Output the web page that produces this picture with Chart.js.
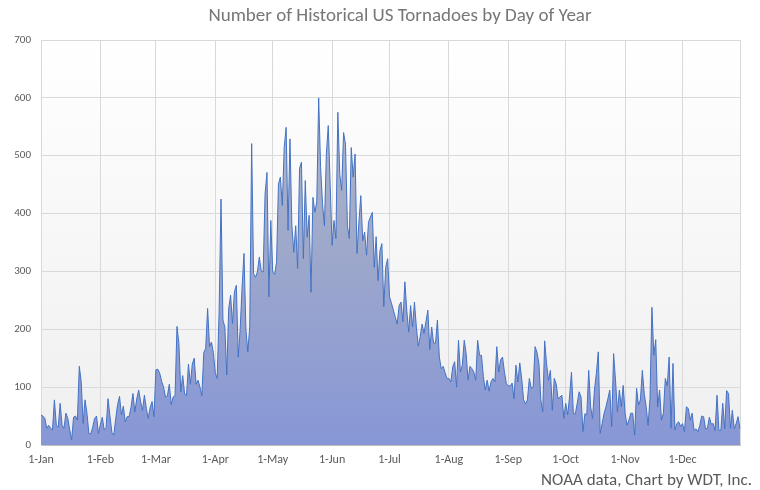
<!DOCTYPE html>
<html>
<head>
<meta charset="utf-8">
<script src="https://cdn.jsdelivr.net/npm/chart.js@4"></script>
<style>
  body { margin: 0; background: #fff; }
</style>
</head>
<body>
<canvas id="chart" width="760" height="490"></canvas>
<script>
// daily tornado counts, one array per month (leap year, 366 days)
const jan = [52, 50, 46, 29, 34, 29, 26, 78, 34, 31, 72, 34, 29, 55, 46, 26, 9, 48, 50, 43, 136, 109, 37, 78, 55, 20, 19, 31, 46, 50, 20];
const feb = [35, 48, 26, 30, 80, 50, 22, 17, 45, 70, 84, 52, 67, 40, 49, 49, 65, 89, 57, 80, 95, 75, 60, 86, 63, 46, 65, 75, 49];
const mar = [130, 131, 124, 110, 100, 83, 85, 105, 70, 83, 85, 205, 176, 92, 120, 88, 86, 140, 105, 140, 150, 105, 112, 100, 85, 160, 167, 236, 170, 178, 160];
const apr = [125, 115, 230, 425, 216, 204, 121, 235, 259, 210, 265, 276, 152, 200, 273, 331, 200, 161, 204, 521, 296, 290, 299, 325, 301, 299, 434, 471, 256, 388];
const may = [299, 295, 316, 451, 463, 414, 514, 549, 371, 529, 380, 333, 379, 305, 478, 489, 322, 457, 359, 397, 264, 428, 402, 420, 600, 480, 417, 379, 503, 552, 450];
const jun = [345, 388, 357, 575, 468, 440, 540, 520, 379, 357, 514, 463, 503, 331, 385, 431, 353, 368, 328, 385, 394, 402, 307, 360, 284, 336, 348, 239, 307, 322];
const jul = [256, 245, 233, 221, 209, 241, 247, 213, 282, 233, 195, 241, 204, 247, 204, 171, 187, 209, 193, 213, 233, 165, 204, 176, 176, 216, 152, 132, 136, 125, 115];
const aug = [115, 109, 135, 144, 100, 181, 126, 138, 181, 158, 112, 136, 132, 126, 112, 181, 155, 155, 118, 95, 112, 93, 109, 115, 109, 170, 126, 147, 152, 126, 106];
const sep = [102, 102, 107, 80, 138, 109, 142, 115, 78, 71, 78, 115, 98, 100, 170, 160, 141, 78, 57, 180, 140, 112, 129, 60, 115, 106, 80, 83, 86, 46];
const oct = [72, 52, 83, 126, 54, 54, 72, 92, 83, 23, 54, 52, 129, 66, 46, 95, 124, 161, 20, 37, 54, 66, 80, 95, 32, 158, 112, 57, 95, 66, 103];
const nov = [55, 34, 43, 55, 55, 17, 98, 69, 78, 129, 89, 66, 34, 80, 238, 155, 182, 66, 95, 43, 55, 115, 102, 152, 29, 141, 26, 37, 40, 32];
const dec = [37, 23, 66, 63, 43, 55, 25, 28, 23, 34, 50, 49, 28, 29, 48, 36, 37, 25, 86, 25, 25, 72, 28, 94, 89, 29, 60, 28, 37, 49, 28];

const monthNames = ['Jan', 'Feb', 'Mar', 'Apr', 'May', 'Jun', 'Jul', 'Aug', 'Sep', 'Oct', 'Nov', 'Dec'];
const yTicks = [0, 100, 200, 300, 400, 500, 600, 700];

const chartTitle = 'Number of Historical US Tornadoes by Day of Year';
const footnote = 'NOAA data, Chart by WDT, Inc.';

const months = [jan, feb, mar, apr, may, jun, jul, aug, sep, oct, nov, dec];
const labels = [];
const values = [];
months.forEach((m, i) => {
    m.forEach((v, d) => {
        labels.push((d + 1) + '-' + monthNames[i]);
        values.push(v);
    });
});

const FONT = 'Carlito, Lato, "Open Sans", sans-serif';
const GRAY = '#595959';

// plot background, right border, title and footnote
const decor = {
    id: 'decor',
    beforeDraw(chart) {
        const { ctx, chartArea: a } = chart;
        const g = ctx.createLinearGradient(0, a.top, 0, a.bottom);
        g.addColorStop(0, '#ffffff');
        g.addColorStop(1, '#efefef');
        ctx.save();
        ctx.fillStyle = g;
        ctx.fillRect(a.left, a.top, a.right - a.left, a.bottom - a.top);
        ctx.restore();
    },
    beforeDatasetsDraw(chart) {
        const { ctx, chartArea: a } = chart;
        ctx.save();
        ctx.strokeStyle = '#d9d9d9';
        ctx.lineWidth = 1;
        ctx.beginPath();
        ctx.moveTo(a.right + 0.5, a.top);
        ctx.lineTo(a.right + 0.5, a.bottom);
        ctx.stroke();
        ctx.restore();
    },
    afterDraw(chart) {
        const ctx = chart.ctx;
        ctx.save();
        ctx.textBaseline = 'middle';
        ctx.fillStyle = '#767676';
        ctx.font = '19px ' + FONT;
        ctx.textAlign = 'center';
        ctx.fillText(chartTitle, 400, 16);
        ctx.fillStyle = GRAY;
        ctx.font = '17px ' + FONT;
        ctx.textAlign = 'right';
        ctx.fillText(footnote, 752, 481);
        ctx.restore();
    }
};

new Chart(document.getElementById('chart'), {
    type: 'line',
    data: {
        labels: labels,
        datasets: [{
            data: values,
            borderColor: '#4472c4',
            borderWidth: 1,
            pointRadius: 0,
            tension: 0,
            fill: 'origin',
            backgroundColor: (context) => {
                const a = context.chart.chartArea;
                if (!a) return '#8fa0d6';
                const g = context.chart.ctx.createLinearGradient(0, a.top, 0, a.bottom);
                g.addColorStop(0, '#b9bccb');
                g.addColorStop(0.4, '#a3acc8');
                g.addColorStop(1, '#8797d6');
                return g;
            }
        }]
    },
    options: {
        responsive: false,
        animation: false,
        layout: { padding: { top: 40, right: 20, bottom: 0, left: 0 } },
        plugins: {
            legend: { display: false },
            title: { display: false },
            tooltip: { enabled: false }
        },
        scales: {
            x: {
                type: 'category',
                offset: false,
                afterFit: (scale) => { scale.height = 45; },
                grid: { color: '#d9d9d9', drawTicks: false },
                border: { color: '#bfbfbf' },
                ticks: {
                    autoSkip: false,
                    maxRotation: 0,
                    padding: 8,
                    color: GRAY,
                    font: { family: FONT, size: 12 },
                    callback: function (val) {
                        const l = this.getLabelForValue(val);
                        return l.startsWith('1-') ? l : null;
                    }
                }
            },
            y: {
                min: 0,
                max: 700,
                afterFit: (scale) => { scale.width = 41; },
                afterBuildTicks: (scale) => { scale.ticks = yTicks.map(v => ({ value: v })); },
                grid: { color: '#d9d9d9', drawTicks: false },
                border: { color: '#d9d9d9' },
                ticks: {
                    padding: 10,
                    color: GRAY,
                    font: { family: FONT, size: 11 }
                }
            }
        }
    },
    plugins: [decor]
});
</script>
</body>
</html>
